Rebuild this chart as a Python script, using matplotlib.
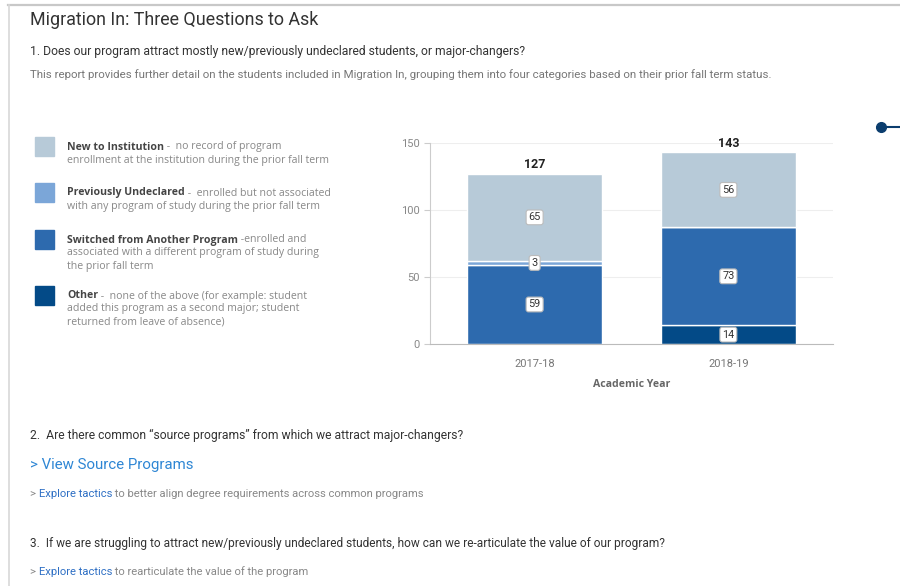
"""
Migration In: stacked bars of incoming students by prior fall term status
"""
import numpy as np
import matplotlib.pyplot as plt
from matplotlib.patches import Rectangle

years = ['2017-18', '2018-19']
categories = ['Other', 'Switched from Another Program', 'Previously Undeclared', 'New to Institution']
other = [0, 14]
switched = [59, 73]
undeclared = [3, 0]
new_inst = [65, 56]
totals = [127, 143]

colors = ['#034a87', '#2d6aae', '#7ba6d8', '#b7cad8']

legend_items = [
    ('New to Institution', ' -  no record of program',
     ['enrollment at the institution during the prior fall term'], '#b7cad8'),
    ('Previously Undeclared', ' -  enrolled but not associated',
     ['with any program of study during the prior fall term'], '#7ba6d8'),
    ('Switched from Another Program', ' -enrolled and',
     ['associated with a different program of study during', 'the prior fall term'], '#2d6aae'),
    ('Other', ' -  none of the above (for example: student',
     ['added this program as a second major; student', 'returned from leave of absence)'], '#034a87'),
]

W, H = 900, 586
plt.rcParams['font.family'] = ['Roboto', 'DejaVu Sans']
fig = plt.figure(figsize=(W / 100, H / 100), dpi=100)
leg_font = ['Open Sans', 'DejaVu Sans']

# full-figure background axes in pixel coords (y down) for the page text
bg = fig.add_axes([0, 0, 1, 1])
bg.set_xlim(0, W)
bg.set_ylim(H, 0)
bg.axis('off')

# page borders
bg.plot([8, W], [4.5, 4.5], color='#c8c8c8', lw=1.6)
bg.plot([8.5, 8.5], [4.5, H], color='#d8d8d8', lw=1.2)

# header texts
bg.text(30, 20, 'Migration In: Three Questions to Ask', fontsize=12.9, color='#333333', va='center')
bg.text(30, 51, '1. Does our program attract mostly new/previously undeclared students, or major-changers?',
        fontsize=8.7, color='#333333', va='center')
bg.text(30, 75, 'This report provides further detail on the students included in Migration In, '
        'grouping them into four categories based on their prior fall term status.',
        fontsize=8.25, color='#777777', va='center')

# legend block
item_y = [147, 193, 240, 296]
for (label, rest, lines, c), y0 in zip(legend_items, item_y):
    bg.add_patch(Rectangle((35, y0 - 10), 19, 19, color=c))
    t = bg.text(67, y0, label, family=leg_font, fontsize=7.6, fontweight='bold',
                color='#444444', va='center')
    bg.annotate(rest, xy=(1, 0.5), xycoords=t, va='center', ha='left', family=leg_font,
                fontsize=7.6, color='#888888', annotation_clip=False)
    for i, line in enumerate(lines):
        bg.text(67, y0 + 13 * (i + 1), line, family=leg_font, fontsize=7.6, color='#888888', va='center')

# chart
ax = fig.add_axes([430 / W, 1 - 344 / H, (833 - 430) / W, (344 - 143) / H])
x = np.arange(len(years))
bottom = np.zeros(len(years))
for vals, c in zip([other, switched, undeclared, new_inst], colors):
    ax.bar(x, vals, width=0.7, bottom=bottom, color=c, edgecolor='white', linewidth=1)
    for xi, v, b in zip(x, vals, bottom):
        if v > 0:
            ax.text(xi, b + v / 2, str(v), ha='center', va='center', fontsize=7.8, color='#333333',
                    bbox=dict(boxstyle='round,pad=0.22', fc='white', ec='#bbbbbb', lw=0.8))
    bottom += np.array(vals)

for xi, tot in zip(x, totals):
    ax.text(xi, tot + 2, str(tot), ha='center', va='bottom', fontsize=9, fontweight='bold',
            color='#222222')

ax.set_xlim(-0.54, 1.54)
ax.set_ylim(0, 150)
ax.set_yticks([0, 50, 100, 150])
ax.set_xticks(x)
ax.set_xticklabels(years)
ax.grid(axis='y', color='#eeeeee', lw=0.8)
ax.set_axisbelow(True)
for s in ['top', 'right']:
    ax.spines[s].set_visible(False)
ax.spines['left'].set_color('#cccccc')
ax.spines['bottom'].set_color('#bbbbbb')
ax.tick_params(axis='y', colors='#cccccc', labelcolor='#888888', labelsize=8, length=4)
ax.tick_params(axis='x', length=0, labelcolor='#777777', labelsize=8, pad=11)
ax.set_xlabel('Academic Year', family=leg_font, fontsize=7.6, fontweight='bold', color='#666666',
              labelpad=7)

# slider handle at right
bg.plot([880, W], [127, 127], color='#0b3d6e', lw=1.5)
bg.plot([881], [127], marker='o', ms=7, color='#0b3d6e')

# questions 2 and 3
bg.text(30, 435, '2.  Are there common \u201csource programs\u201d from which we attract major-changers?',
        fontsize=8.7, color='#333333', va='center')
bg.text(30, 465, '> View Source Programs', fontsize=10.8, color='#2e86d4', va='center')
bg.text(30, 544, '3.  If we are struggling to attract new/previously undeclared students, '
        'how can we re-articulate the value of our program?',
        fontsize=8.6, color='#333333', va='center')

for y0, rest in [(494, ' to better align degree requirements across common programs'),
                 (572, ' to rearticulate the value of the program')]:
    t1 = bg.text(30, y0, '> ', fontsize=8.1, color='#888888', va='center')
    t2 = bg.annotate('Explore tactics', xy=(1, 0.5), xycoords=t1, va='center', ha='left',
                     fontsize=8.1, color='#2e6fc4', annotation_clip=False)
    bg.annotate(rest, xy=(1, 0.5), xycoords=t2, va='center', ha='left',
                fontsize=8.1, color='#888888', annotation_clip=False)

fig.savefig('out.png', dpi=100)
